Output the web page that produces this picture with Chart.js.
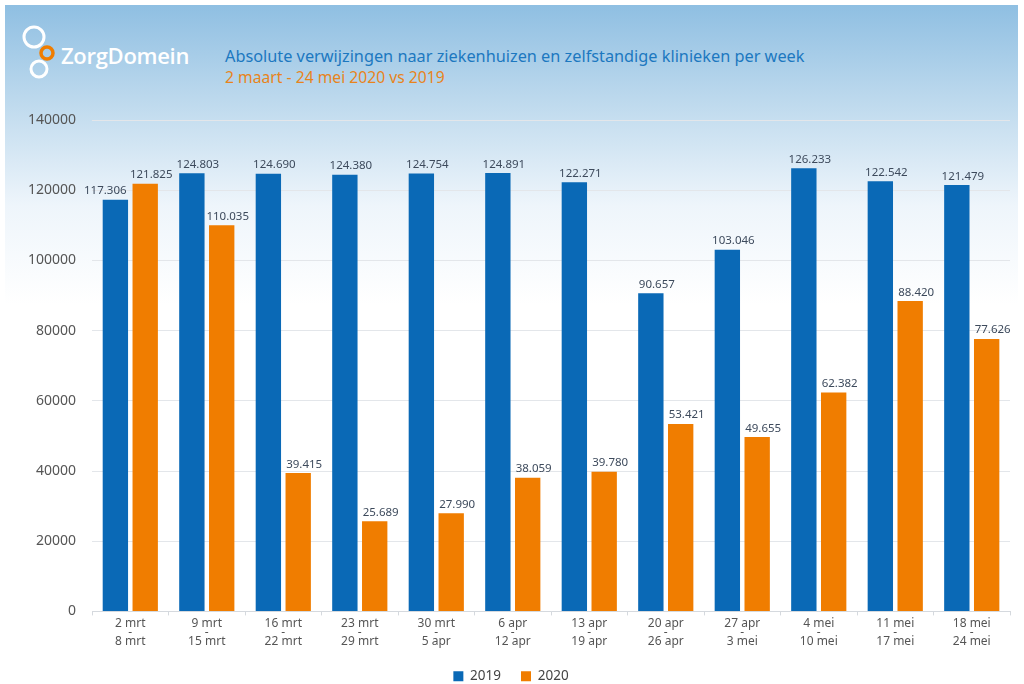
<!DOCTYPE html>
<html lang="nl">
<head>
<meta charset="UTF-8">
<title>Absolute verwijzingen per week</title>
<script src="https://cdn.jsdelivr.net/npm/chart.js"></script>
<style>
    html, body { margin: 0; padding: 0; background: #fff; }
    #wrap { position: relative; width: 1024px; height: 684px; overflow: hidden; }
    #panel { position: absolute; left: 5px; top: 5px; width: 1013px; height: 676px;
        background: linear-gradient(to bottom, #8fbfe2 0px, #c4ddef 110px, #eef5fb 200px, #ffffff 300px); }
    #logo { position: absolute; left: 20px; top: 22px; }
    #brand { position: absolute; left: 61px; top: 40px; color: #fff; font: 600 22px "Open Sans", sans-serif; letter-spacing: -0.3px; }
    #title { position: absolute; left: 225px; top: 45px; color: #1c78c0; font: 16.3px "Noto Sans", sans-serif; }
    #subtitle { position: absolute; left: 225px; top: 66px; color: #e8841c; font: 15.7px "Noto Sans", sans-serif; }
    canvas { position: absolute; left: 0; top: 0; }
</style>
</head>
<body>
<div id="wrap">
    <div id="panel"></div>
    <svg id="logo" width="40" height="60" viewBox="0 0 40 60">
        <circle cx="14" cy="15" r="10" fill="none" stroke="#fff" stroke-width="3"/>
        <circle cx="27" cy="31" r="6" fill="none" stroke="#f07d00" stroke-width="3.5"/>
        <circle cx="19" cy="47" r="8" fill="none" stroke="#fff" stroke-width="3"/>
    </svg>
    <div id="brand">ZorgDomein</div>
    <div id="title">Absolute verwijzingen naar ziekenhuizen en zelfstandige klinieken per week</div>
    <div id="subtitle">2 maart - 24 mei 2020 vs 2019</div>
    <canvas id="chart" width="1024" height="693"></canvas>
</div>

<script>
// weken (van - tot)
const weekStart = ["2 mrt", "9 mrt", "16 mrt", "23 mrt", "30 mrt", "6 apr", "13 apr", "20 apr", "27 apr", "4 mei", "11 mei", "18 mei"];
const weekEnd = ["8 mrt", "15 mrt", "22 mrt", "29 mrt", "5 apr", "12 apr", "19 apr", "26 apr", "3 mei", "10 mei", "17 mei", "24 mei"];

const values2019 = [117306, 124803, 124690, 124380, 124754, 124891, 122271, 90657, 103046, 126233, 122542, 121479];
const values2020 = [121825, 110035, 39415, 25689, 27990, 38059, 39780, 53421, 49655, 62382, 88420, 77626];

const yTicks = [0, 20000, 40000, 60000, 80000, 100000, 120000, 140000];

const labels = weekStart.map((s, i) => [s, "-", weekEnd[i]]);

function fmt(v) {
    return String(v).replace(/\B(?=(\d{3})+(?!\d))/g, ".");
}

// waarden boven de balken (iets naar rechts, en weg van andere balken)
const valueLabels = {
    id: 'valueLabels',
    afterDatasetsDraw(chart) {
        const ctx = chart.ctx;
        ctx.save();
        ctx.font = '11.5px "Noto Sans", sans-serif';
        ctx.fillStyle = '#3d4a5c';
        ctx.textAlign = 'center';
        ctx.textBaseline = 'bottom';
        const bars = [];
        chart.data.datasets.forEach((ds, di) => {
            chart.getDatasetMeta(di).data.forEach(b => bars.push(b));
        });
        chart.data.datasets.forEach((ds, di) => {
            chart.getDatasetMeta(di).data.forEach((bar, i) => {
                const txt = fmt(ds.data[i]);
                const w = ctx.measureText(txt).width;
                let x = bar.x + 6;
                const yb = bar.y - 3;
                bars.forEach(o => {
                    if (o === bar) return;
                    const l = o.x - o.width / 2, r = o.x + o.width / 2;
                    if (yb > o.y && x + w / 2 > l && x - w / 2 < r) {
                        if (o.x > bar.x) x = l - 6 - w / 2;
                        else x = r + 6 + w / 2;
                    }
                });
                ctx.fillText(txt, x, yb);
            });
        });
        ctx.restore();
    }
};

new Chart(document.getElementById('chart'), {
    type: 'bar',
    data: {
        labels: labels,
        datasets: [
            { label: "2019", data: values2019, backgroundColor: "#0a69b6" },
            { label: "2020", data: values2020, backgroundColor: "#f07d00" }
        ]
    },
    options: {
        responsive: false,
        animation: false,
        categoryPercentage: 0.78,
        barPercentage: 0.85,
        layout: { padding: { top: 120, left: 12, right: 14, bottom: 0 } },
        plugins: {
            legend: {
                position: 'bottom',
                labels: { boxWidth: 10, boxHeight: 10, padding: 20, color: '#444',
                    font: { size: 13.5, family: '"Noto Sans", sans-serif' } }
            },
            tooltip: { enabled: false }
        },
        scales: {
            x: {
                grid: { drawOnChartArea: false, drawTicks: true, tickLength: 4, color: '#d5d9de' },
                border: { color: '#d5d9de' },
                ticks: { color: '#555', padding: 3, maxRotation: 0,
                    font: { size: 12, family: '"Noto Sans", sans-serif', lineHeight: 0.78 } }
            },
            y: {
                min: 0,
                max: 140000,
                afterBuildTicks(axis) { axis.ticks = yTicks.map(v => ({ value: v })); },
                grid: { color: '#e3e6ea', drawTicks: false },
                border: { display: false },
                ticks: { color: '#555', padding: 16, callback: v => String(v),
                    font: { size: 14, family: '"Noto Sans", sans-serif' } }
            }
        }
    },
    plugins: [valueLabels]
});
</script>
</body>
</html>
